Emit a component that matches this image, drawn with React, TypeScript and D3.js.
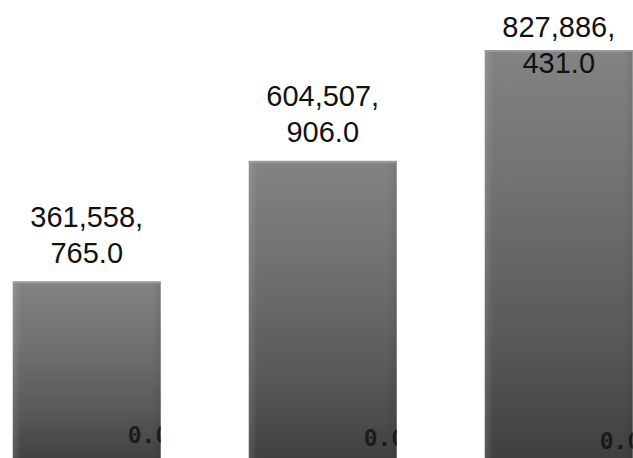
import React from "react";
import * as d3 from "d3";

const categories = ["A", "B", "C"];
const values = [361558765.0, 604507906.0, 827886431.0];
const zeroValues = [0.0, 0.0, 0.0];

const W = 633;
const H = 458;

export default function App() {
  const x = d3
    .scaleBand<string>()
    .domain(categories)
    .range([0, 645.5])
    .paddingInner(0.373)
    .paddingOuter(0.054);
  const baseline = 461;
  const y = d3.scaleLinear().domain([0, d3.max(values) as number]).range([baseline, 50]);
  const fmt = d3.format(",.1f");
  const bw = x.bandwidth();

  return (
    <div style={{ position: "fixed", left: 0, top: 0, width: W, height: H, background: "#fff" }}>
      <svg width={W} height={H} style={{ display: "block" }}>
        <defs>
          <linearGradient id="barGrad" x1="0" y1="0" x2="0" y2="1">
            <stop offset="0" stopColor="#838383" />
            <stop offset="0.35" stopColor="#707070" />
            <stop offset="0.7" stopColor="#585858" />
            <stop offset="1" stopColor="#3e3e3e" />
          </linearGradient>
          <linearGradient id="edgeGrad" x1="0" y1="0" x2="1" y2="0">
            <stop offset="0" stopColor="#ffffff" stopOpacity="0.12" />
            <stop offset="0.06" stopColor="#ffffff" stopOpacity="0" />
            <stop offset="0.94" stopColor="#000000" stopOpacity="0" />
            <stop offset="1" stopColor="#000000" stopOpacity="0.08" />
          </linearGradient>
          {categories.map((c, i) => (
            <clipPath id={`clip${i}`} key={c}>
              <rect x={x(c)} y={y(values[i])} width={bw} height={H - y(values[i]) + 10} />
            </clipPath>
          ))}
        </defs>
        {categories.map((c, i) => {
          const bx = x(c) as number;
          const top = y(values[i]);
          const s = fmt(values[i]);
          const parts = s.split(",");
          const line1 = parts.slice(0, parts.length - 1).join(",") + ",";
          const line2 = parts[parts.length - 1];
          let b2 = top - 19;
          let b1 = b2 - 35.5;
          if (b1 < 37) {
            b1 = 37;
            b2 = b1 + 35.5;
          }
          const cx = bx + bw / 2;
          return (
            <g key={c}>
              <rect x={bx} y={top} width={bw} height={H - top + 10} fill="url(#barGrad)" />
              <rect x={bx} y={top} width={bw} height={H - top + 10} fill="url(#edgeGrad)" />
              <rect x={bx} y={top} width={bw} height={2} fill="#9a9a9a" />
              <g clipPath={`url(#clip${i})`}>
                <text
                  x={bx + bw - 33}
                  y={443 + i * 3}
                  fontFamily="'DejaVu Sans Mono', monospace"
                  fontSize={23}
                  fontWeight="bold"
                  fill="#111"
                  opacity={0.8}
                >
                  {fmt(zeroValues[i])}
                </text>
              </g>
              <text
                x={cx}
                y={b1}
                textAnchor="middle"
                fontFamily="'Liberation Sans', Arial, sans-serif"
                fontSize={29}
                fill="#111"
              >
                {line1}
              </text>
              <text
                x={cx}
                y={b2}
                textAnchor="middle"
                fontFamily="'Liberation Sans', Arial, sans-serif"
                fontSize={29}
                fill="#111"
              >
                {line2}
              </text>
            </g>
          );
        })}
      </svg>
    </div>
  );
}
